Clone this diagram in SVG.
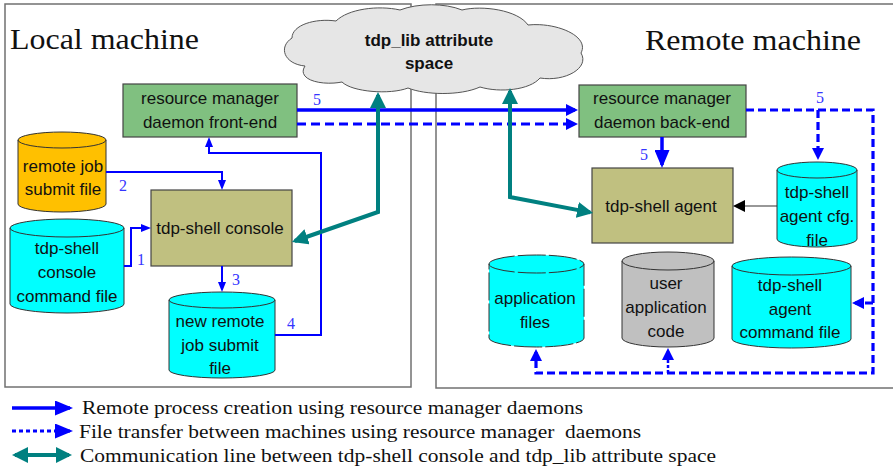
<svg xmlns="http://www.w3.org/2000/svg" width="893" height="469" viewBox="0 0 893 469">
<style>
.frame{fill:#fff;stroke:#707070;stroke-width:1.5}
.title{font-family:"Liberation Serif","Times New Roman",serif;font-size:29px;fill:#111}
.t{font-family:"Liberation Sans",Arial,sans-serif;font-size:17px;fill:#111;text-anchor:middle}
.tb{font-family:"Liberation Sans",Arial,sans-serif;font-size:17px;font-weight:bold;fill:#111;text-anchor:middle}
.lbl{font-family:"Liberation Serif","Times New Roman",serif;font-size:16px;fill:#3535ff}
.leg{font-family:"Liberation Serif","Times New Roman",serif;font-size:19px;fill:#111}
.rect{stroke:#444;stroke-width:1.2}
.green{fill:#80c080}
.olive{fill:#c0c080}
.cyl{stroke:#333;stroke-width:1}
.cyan{fill:#00ffff}
.orange{fill:#ffc000}
.grey{fill:#c0c0c0}
.rim{fill:none;stroke:#333;stroke-width:1}
.b{fill:none;stroke:#0000ff}
.thin{stroke-width:2}
.thick{stroke-width:3.5}
.dash{stroke-width:3;stroke-dasharray:9 5}
.dash2{stroke-width:3.2;stroke-dasharray:8 4}
.teal{fill:none;stroke:#008080;stroke-width:4}
</style>
<defs>
<marker id="aS" viewBox="0 0 10 8" refX="7" refY="4" markerWidth="10" markerHeight="8" markerUnits="userSpaceOnUse" orient="auto"><path d="M0,0L10,4L0,8z" fill="#0000ff"/></marker>
<marker id="aM" viewBox="0 0 12 12" refX="9" refY="6" markerWidth="12" markerHeight="12" markerUnits="userSpaceOnUse" orient="auto"><path d="M0,0L12,6L0,12z" fill="#0000ff"/></marker>
<marker id="aL" viewBox="0 0 18 15" refX="15" refY="7.5" markerWidth="18" markerHeight="15" markerUnits="userSpaceOnUse" orient="auto"><path d="M0,0L18,7.5L0,15z" fill="#0000ff"/></marker>
<marker id="aT" viewBox="0 0 16 16" refX="13" refY="8" markerWidth="16" markerHeight="16" markerUnits="userSpaceOnUse" orient="auto-start-reverse"><path d="M0,0L16,8L0,16z" fill="#008080"/></marker>
<marker id="aK" viewBox="0 0 12 12" refX="10" refY="6" markerWidth="12" markerHeight="12" markerUnits="userSpaceOnUse" orient="auto"><path d="M0,0L12,6L0,12z" fill="#000"/></marker>
</defs>

<g id="local-machine">
<rect class="frame" x="5" y="4" width="406" height="383"/>
<text class="title" x="10" y="49" textLength="189" lengthAdjust="spacingAndGlyphs">Local machine</text>
</g>
<g id="remote-machine">
<rect class="frame" x="436" y="4" width="470" height="384"/>
<text class="title" x="645" y="50" textLength="216" lengthAdjust="spacingAndGlyphs">Remote machine</text>
</g>

<g id="attribute-space">
<path d="M305,66 C284,64 278,47 292,38 C292,25 315,18 336,21 C348,9 378,5 400,10 C418,3 445,3 462,10 C482,5 518,10 528,25 C556,22 590,36 581,53 C590,68 565,82 540,78 C530,90 500,93 480,87 C460,96 425,95 408,88 C390,95 352,92 342,82 C322,86 296,80 305,66 Z" fill="#e6e6e6" stroke="#555" stroke-width="1"/>
<text class="tb" x="429" y="46">tdp_lib attribute</text>
<text class="tb" x="429" y="69">space</text>
</g>

<g id="front-end">
<rect class="rect green" x="123" y="84" width="174" height="53"/>
<text class="t" x="210" y="104">resource manager</text>
<text class="t" x="210" y="128">daemon front-end</text>
</g>

<g id="console">
<rect class="rect olive" x="151" y="190" width="141" height="76"/>
<text class="t" x="220" y="234">tdp-shell console</text>
</g>

<g id="remote-job-file">
<path class="cyl orange" d="M18,140 A44,8 0 0 1 106,140 V204 A44,8 0 0 1 18,204 Z"/>
<path class="rim" d="M18,140 A44,8 0 0 0 106,140"/>
<text class="t" x="63" y="172">remote job</text>
<text class="t" x="63" y="195">submit file</text>
</g>

<g id="console-command-file">
<path class="cyl cyan" d="M10,228 A57,9 0 0 1 124,228 V304 A57,9 0 0 1 10,304 Z"/>
<path class="rim" d="M10,228 A57,9 0 0 0 124,228"/>
<text class="t" x="67" y="254">tdp-shell</text>
<text class="t" x="67" y="278">console</text>
<text class="t" x="67" y="302">command file</text>
</g>

<g id="new-remote-job-file">
<path class="cyl cyan" d="M169,300 A53,8 0 0 1 275,300 V370 A53,8 0 0 1 169,370 Z"/>
<path class="rim" d="M169,300 A53,8 0 0 0 275,300"/>
<text class="t" x="220" y="327">new remote</text>
<text class="t" x="220" y="351">job submit</text>
<text class="t" x="220" y="374">file</text>
</g>

<g id="back-end">
<rect class="rect green" x="579" y="85" width="167" height="52"/>
<text class="t" x="662" y="104">resource manager</text>
<text class="t" x="662" y="128">daemon back-end</text>
</g>

<g id="agent">
<rect class="rect olive" x="592" y="168" width="141" height="75"/>
<text class="t" x="661" y="212">tdp-shell agent</text>
</g>

<g id="agent-cfg-file">
<path class="cyl cyan" d="M777,170 A40,8 0 0 1 857,170 V239 A40,8 0 0 1 777,239 Z"/>
<path class="rim" d="M777,170 A40,8 0 0 0 857,170"/>
<text class="t" x="817" y="198">tdp-shell</text>
<text class="t" x="817" y="222">agent cfg.</text>
<text class="t" x="817" y="246">file</text>
</g>

<g id="application-files">
<path class="cyl cyan" stroke-dasharray="28 3" d="M489,264 A47.5,9 0 0 1 584,264 V338 A47.5,9 0 0 1 489,338 Z"/>
<path class="rim" stroke-dasharray="28 3" d="M489,264 A47.5,9 0 0 0 584,264"/>
<text class="t" x="535" y="304">application</text>
<text class="t" x="535" y="328">files</text>
</g>

<g id="user-application-code">
<path class="cyl grey" d="M622,261 A46,9 0 0 1 714,261 V338 A46,9 0 0 1 622,338 Z"/>
<path class="rim" d="M622,261 A46,9 0 0 0 714,261"/>
<text class="t" x="666" y="289">user</text>
<text class="t" x="666" y="313">application</text>
<text class="t" x="666" y="337">code</text>
</g>

<g id="agent-command-file">
<path class="cyl cyan" d="M732,266 A59.5,9 0 0 1 851,266 V339 A59.5,9 0 0 1 732,339 Z"/>
<path class="rim" d="M732,266 A59.5,9 0 0 0 851,266"/>
<text class="t" x="790" y="291">tdp-shell</text>
<text class="t" x="790" y="315">agent</text>
<text class="t" x="790" y="338">command file</text>
</g>

<g id="connectors">
<path class="b thin" d="M124,266 H131 V228 H148" marker-end="url(#aS)"/>
<path class="b thin" d="M106,172 H222 V187" marker-end="url(#aS)"/>
<path class="b thin" d="M222,266 V289" marker-end="url(#aS)"/>
<path class="b thin" d="M275,335 H321 V153 H209 V140" marker-end="url(#aS)"/>
<path class="b thick" d="M297,110 H575" marker-end="url(#aM)"/>
<path class="b dash" d="M297,124 H575" marker-end="url(#aM)"/>
<path class="teal" d="M378,95 V212 L294.8,241" marker-start="url(#aT)" marker-end="url(#aT)"/>
<path class="teal" d="M510,91 V197 L590.1,212.4" marker-start="url(#aT)" marker-end="url(#aT)"/>
<path class="b thick" d="M662,137 V165" marker-end="url(#aL)"/>
<path class="b dash2" d="M746,110 H873 V373 H536 V352" marker-end="url(#aM)"/>
<path class="b dash2" d="M818,110 V157" marker-end="url(#aM)"/>
<path class="b dash2" d="M873,303 H855" marker-end="url(#aM)"/>
<path class="b" stroke-width="2.5" stroke-dasharray="3 2" d="M668,373 V351" marker-end="url(#aM)"/>
<path fill="none" stroke="#333" stroke-width="1.2" d="M777,206 H735" marker-end="url(#aK)"/>
<text class="lbl" x="137" y="265">1</text>
<text class="lbl" x="119" y="191">2</text>
<text class="lbl" x="232" y="285">3</text>
<text class="lbl" x="287" y="329">4</text>
<text class="lbl" x="313" y="105">5</text>
<text class="lbl" x="640" y="160">5</text>
<text class="lbl" x="816" y="103">5</text>
</g>

<g id="legend">
<path class="b thick" d="M12,408 H70" marker-end="url(#aL)"/>
<path class="b" stroke-width="3" stroke-dasharray="4 3" d="M12,431 H70" marker-end="url(#aL)"/>
<path class="teal" d="M15,455 H69" marker-start="url(#aT)" marker-end="url(#aT)"/>
<text class="leg" x="82" y="414" textLength="501" lengthAdjust="spacingAndGlyphs">Remote process creation using resource manager daemons</text>
<text class="leg" x="79" y="437.5" textLength="562" lengthAdjust="spacingAndGlyphs" xml:space="preserve">File transfer between machines using resource manager  daemons</text>
<text class="leg" x="80" y="461.5" textLength="636" lengthAdjust="spacingAndGlyphs">Communication line between tdp-shell console and tdp_lib attribute space</text>
</g>
</svg>
